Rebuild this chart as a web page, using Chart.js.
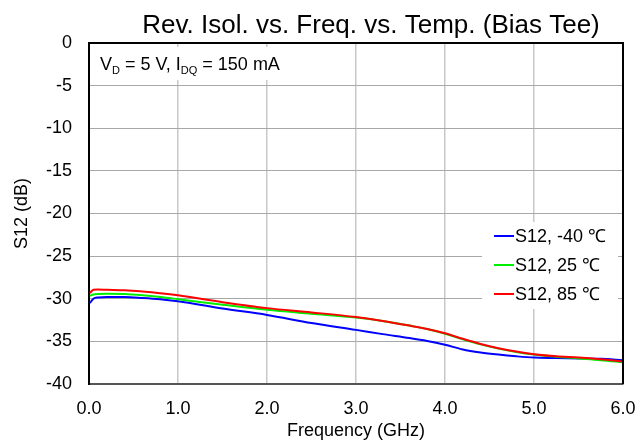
<!DOCTYPE html>
<html>
<head>
<meta charset="utf-8">
<script src="https://cdn.jsdelivr.net/npm/chart.js@4"></script>
<style>
  html, body { margin: 0; padding: 0; background: #fff; }
  #wrap { width: 638px; height: 447px; }
</style>
</head>
<body>
<div id="wrap"><canvas id="grafico"></canvas></div>
<script>
// datos
const freqGHz = [0.01, 0.05, 0.1, 0.2, 0.4, 0.6, 0.8, 1.0, 1.5, 2.0, 2.5, 3.0, 3.3, 3.6, 3.8, 4.0, 4.2, 4.4, 4.6, 4.8, 5.0, 5.25, 5.5, 5.75, 6.0];
const s12Menos40 = [-30.5, -30.0, -29.85, -29.8, -29.8, -29.9, -30.05, -30.3, -31.15, -31.9, -32.85, -33.65, -34.15, -34.6, -34.95, -35.4, -35.95, -36.3, -36.55, -36.75, -36.9, -36.95, -37.0, -37.05, -37.2];
const s12Mas25 = [-29.65, -29.5, -29.43, -29.4, -29.45, -29.6, -29.8, -30.05, -30.7, -31.3, -31.75, -32.2, -32.6, -33.15, -33.55, -34.1, -34.75, -35.35, -35.85, -36.25, -36.55, -36.8, -37.0, -37.2, -37.45];
const s12Mas85 = [-29.33, -28.95, -28.92, -28.95, -29.0, -29.15, -29.35, -29.6, -30.4, -31.1, -31.6, -32.15, -32.6, -33.15, -33.55, -34.05, -34.7, -35.3, -35.8, -36.2, -36.5, -36.75, -36.9, -37.1, -37.35];

const etiquetas = ["S12, -40 \u2103", "S12, 25 \u2103", "S12, 85 \u2103"];
const xTickVals = [0, 1, 2, 3, 4, 5, 6];
const xTickLabels = ["0.0", "1.0", "2.0", "3.0", "4.0", "5.0", "6.0"];
const yTickVals = [-40, -35, -30, -25, -20, -15, -10, -5, 0];
const yTickLabels = ["-40", "-35", "-30", "-25", "-20", "-15", "-10", "-5", "0"];

const fuente = "'Liberation Sans', Arial, Helvetica, sans-serif";

function serie(valores) {
  return valores.map((v, i) => ({ x: freqGHz[i], y: v }));
}

// titulo, nota, leyenda y marco
const extras = {
  id: "extras",
  afterDraw(chart) {
    const { ctx, chartArea: a } = chart;
    ctx.save();

    // cajas blancas sobre la grilla
    ctx.fillStyle = "#fff";
    ctx.fillRect(a.left + 1, a.top + 4, 216, 33);
    ctx.fillRect(482, 222, 136, 87);

    // marco
    ctx.strokeStyle = "#000";
    ctx.lineWidth = 2;
    ctx.beginPath();
    ctx.moveTo(a.left, a.top);
    ctx.lineTo(a.right, a.top);
    ctx.lineTo(a.right, a.bottom);
    ctx.stroke();

    // titulo
    ctx.fillStyle = "#000";
    ctx.font = "26px " + fuente;
    ctx.textAlign = "center";
    ctx.textBaseline = "alphabetic";
    ctx.fillText("Rev. Isol. vs. Freq. vs. Temp. (Bias Tee)", 371, 33);

    // nota con subindices
    ctx.textAlign = "left";
    let x = 100;
    const base = 70;
    const partes = [
      ["V", 18, 0], ["D", 11, 4], [" = 5 V, I", 18, 0], ["DQ", 11, 4], [" = 150 mA", 18, 0]
    ];
    partes.forEach(([txt, size, dy]) => {
      ctx.font = size + "px " + fuente;
      ctx.fillText(txt, x, base + dy);
      x += ctx.measureText(txt).width;
    });

    // leyenda
    ctx.font = "18px " + fuente;
    ctx.textBaseline = "middle";
    chart.data.datasets.forEach((ds, i) => {
      const y = 236 + i * 29;
      ctx.strokeStyle = ds.borderColor;
      ctx.lineWidth = 2;
      ctx.beginPath();
      ctx.moveTo(494, y);
      ctx.lineTo(514, y);
      ctx.stroke();
      ctx.fillStyle = "#000";
      ctx.fillText(ds.label, 515, y + 1);
    });

    ctx.restore();
  }
};

const ctx = document.getElementById("grafico").getContext("2d");

const chart = new Chart(ctx, {
  type: "line",
  data: {
    datasets: [
      { label: etiquetas[0], data: serie(s12Menos40), borderColor: "#0000ff", order: 2 },
      { label: etiquetas[1], data: serie(s12Mas25), borderColor: "#00ee00", order: 1 },
      { label: etiquetas[2], data: serie(s12Mas85), borderColor: "#ff0000", order: 0 }
    ]
  },
  options: {
    responsive: true,
    maintainAspectRatio: false,
    animation: false,
    devicePixelRatio: 1,
    layout: { padding: { top: 43, right: 15, left: 0, bottom: 0 } },
    elements: {
      point: { radius: 0 },
      line: { borderWidth: 2, tension: 0.4, cubicInterpolationMode: "monotone", fill: false }
    },
    plugins: {
      legend: { display: false },
      title: { display: false },
      tooltip: { enabled: false }
    },
    scales: {
      x: {
        type: "linear",
        min: 0,
        max: 6,
        afterBuildTicks: s => { s.ticks = xTickVals.map(v => ({ value: v })); },
        afterFit: s => { s.height = 63; s.paddingLeft = 0; s.paddingRight = 0; },
        ticks: {
          callback: (v, i) => xTickLabels[i],
          color: "#000",
          font: { family: fuente, size: 18 },
          padding: 14,
          maxRotation: 0
        },
        grid: { color: "#c8c8c8", lineWidth: 1.5, drawTicks: false },
        border: { color: "#555", width: 2 },
        title: {
          display: true,
          text: "Frequency (GHz)",
          color: "#000",
          font: { family: fuente, size: 18 },
          padding: { top: 0, bottom: 5 }
        }
      },
      y: {
        type: "linear",
        min: -40,
        max: 0,
        afterBuildTicks: s => { s.ticks = yTickVals.map(v => ({ value: v })); },
        afterFit: s => { s.width = 89; s.paddingTop = 0; s.paddingBottom = 0; },
        ticks: {
          callback: (v, i) => yTickLabels[i],
          color: "#000",
          font: { family: fuente, size: 18 },
          padding: 17
        },
        grid: { color: "#a8a8a8", lineWidth: 1, drawTicks: false },
        border: { color: "#000", width: 2 },
        title: {
          display: true,
          text: "S12 (dB)",
          color: "#000",
          font: { family: fuente, size: 18 },
          padding: { top: 11, bottom: 0 }
        }
      }
    }
  },
  plugins: [extras]
});
</script>
</body>
</html>
